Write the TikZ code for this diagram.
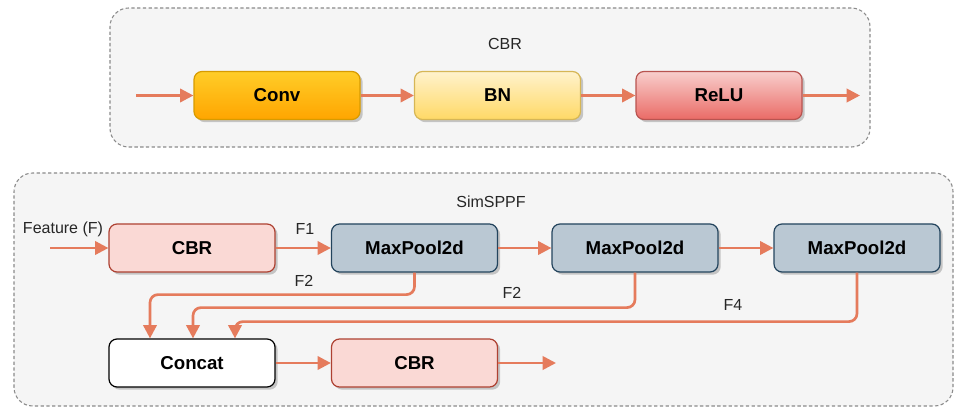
\documentclass[tikz,border=0pt]{standalone}
\usepackage{fontspec}
\setmainfont{Liberation Sans}
\usetikzlibrary{arrows.meta,shadows,calc}
\definecolor{arrowc}{HTML}{E57B5C}
\definecolor{contfill}{HTML}{F5F5F5}
\definecolor{contline}{HTML}{8A8A8A}
\definecolor{cbrfill}{HTML}{FAD9D5}
\definecolor{cbrline}{HTML}{AE4132}
\definecolor{mpfill}{HTML}{BAC8D3}
\definecolor{mpline}{HTML}{23445D}
\definecolor{convtop}{HTML}{FFCD28}
\definecolor{convbot}{HTML}{FFA500}
\definecolor{convline}{HTML}{D79B00}
\definecolor{bntop}{HTML}{FFF2CC}
\definecolor{bnbot}{HTML}{FFD966}
\definecolor{bnline}{HTML}{D6B656}
\definecolor{relutop}{HTML}{F8CECC}
\definecolor{relubot}{HTML}{EA6B66}
\definecolor{reluline}{HTML}{B85450}
\begin{document}
\begin{tikzpicture}[x=0.75pt,y=-0.75pt,
  container/.style={draw=contline, fill=contfill, dash pattern=on 2.5pt off 1.8pt, line width=0.8pt, rounded corners=14pt, inner sep=0pt},
  blk/.style={rounded corners=6pt, minimum width=124.5pt, minimum height=36pt, inner sep=0pt,
    font=\fontsize{14}{16}\selectfont\bfseries, line width=0.9pt,
    drop shadow={shadow xshift=2pt, shadow yshift=-2pt, opacity=0.2, fill=black}},
  cbrbox/.style={blk, draw=cbrline, fill=cbrfill},
  mpbox/.style={blk, draw=mpline, fill=mpfill},
  catbox/.style={blk, draw=black, fill=white},
  convbox/.style={blk, draw=convline, top color=convtop, bottom color=convbot},
  bnbox/.style={blk, draw=bnline, top color=bntop, bottom color=bnbot},
  relubox/.style={blk, draw=reluline, top color=relutop, bottom color=relubot},
  lbl/.style={font=\fontsize{12}{14}\selectfont, text=black!85, inner sep=0pt},
  arr/.style={draw=arrowc, line width=2pt, -{Triangle[length=10pt,width=10pt]}, rounded corners=6pt}
]
\useasboundingbox (0,0) rectangle (955,409);

% containers
\node[container, minimum width=570pt, minimum height=104.25pt] (topc) at (490,77.5) {};
\node[container, minimum width=704.25pt, minimum height=174.75pt] (botc) at (483.5,289.5) {};

\node[lbl] (cbrtitle) at (505,44) {CBR};
\node[lbl] (spptitle) at (491,202) {SimSPPF};

% top row
\node[convbox] (conv) at (277,95.5) {Conv};
\node[bnbox] (bn) at (497.5,95.5) {BN};
\node[relubox] (relu) at (719,95.5) {ReLU};
\coordinate (tin) at (136,95.5);
\coordinate (tout) at (860,95.5);
\draw[arr] (tin) -- (conv);
\draw[arr] (conv) -- (bn);
\draw[arr] (bn) -- (relu);
\draw[arr] (relu) -- (tout);

% bottom
\node[cbrbox] (cbr1) at (192,248) {CBR};
\node[mpbox] (mp1) at (414.5,248) {MaxPool2d};
\node[mpbox] (mp2) at (635,248) {MaxPool2d};
\node[mpbox] (mp3) at (857,248) {MaxPool2d};
\node[catbox] (concat) at (192,363) {Concat};
\node[cbrbox] (cbr2) at (414.5,363) {CBR};

\coordinate (bin) at (50,248);
\coordinate (bout) at (556,363);
\coordinate (c1) at ($(concat.north)+(-42,0)$);
\coordinate (c2) at ($(concat.north)+(1,0)$);
\coordinate (c3) at ($(concat.north)+(43,0)$);

\draw[arr] (bin) -- (cbr1);
\draw[arr] (cbr1) -- (mp1);
\draw[arr] (mp1) -- (mp2);
\draw[arr] (mp2) -- (mp3);
\draw[arr] (concat) -- (cbr2);
\draw[arr] (cbr2) -- (bout);
\draw[arr] (mp1.south) -- ++(0,22) -| (c1);
\draw[arr] (mp2.south) -- ++(0,35) -| (c2);
\draw[arr] (mp3.south) -- ++(0,49) -| (c3);

\node[lbl] (lfeat) at (63,229) {Feature (F)};
\node[lbl] (lf1) at (305,229) {F1};
\node[lbl] (lf2a) at (304,281) {F2};
\node[lbl] (lf2b) at (512,293) {F2};
\node[lbl] (lf4) at (733,305) {F4};
\end{tikzpicture}
\end{document}
